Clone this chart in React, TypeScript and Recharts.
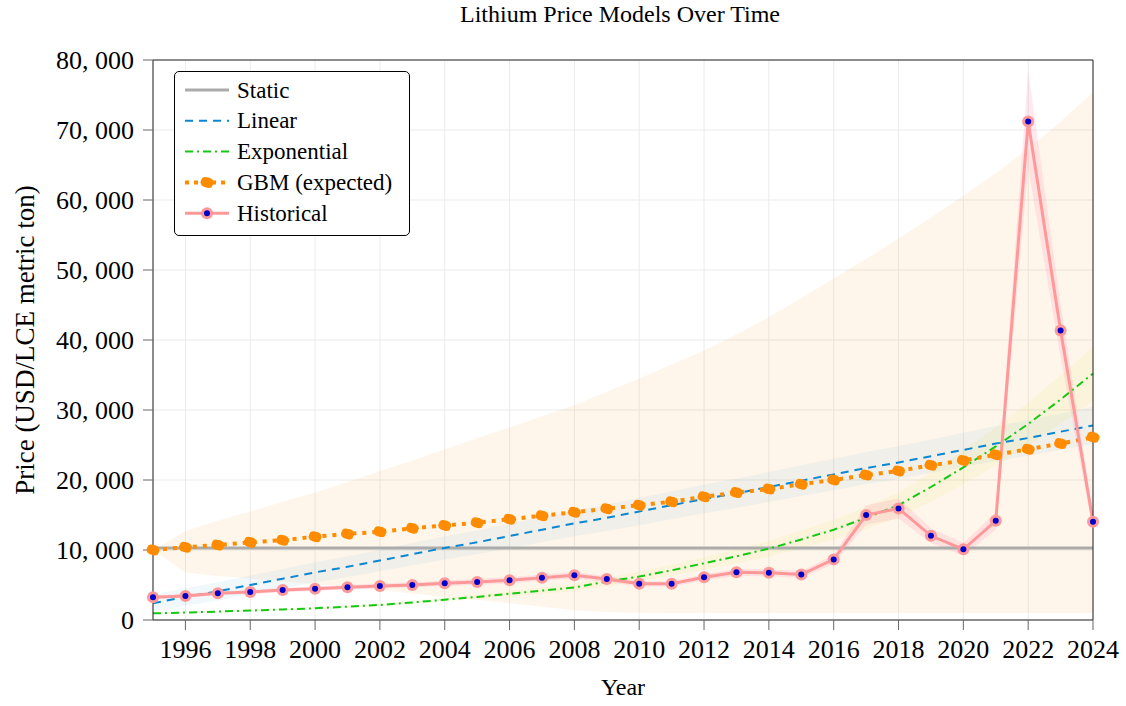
import { Area, CartesianGrid, ComposedChart, Line, XAxis, YAxis } from "recharts";

const YEARS = [
  1995, 1996, 1997, 1998, 1999, 2000, 2001, 2002, 2003, 2004, 2005, 2006, 2007, 2008, 2009,
  2010, 2011, 2012, 2013, 2014, 2015, 2016, 2017, 2018, 2019, 2020, 2021, 2022, 2023, 2024,
];

const STATIC_PRICE = 10300;

const LINEAR = [
  2400, 3300, 4100, 5000, 5900, 6800, 7600, 8500, 9400, 10300, 11100, 12000, 12900, 13800, 14600,
  15500, 16400, 17300, 18100, 19000, 19900, 20800, 21700, 22500, 23400, 24300, 25200, 26000, 26900, 27800,
];
const LINEAR_LOW = [
  1200, 2050, 2800, 3650, 4500, 5350, 6100, 6950, 7800, 8650, 9400, 10250, 11100, 11950, 12700,
  13550, 14400, 15250, 16000, 16850, 17700, 18550, 19400, 20150, 21000, 21850, 22700, 23450, 24300, 25150,
];
const LINEAR_HIGH = [
  3600, 4550, 5400, 6350, 7300, 8250, 9100, 10050, 11000, 11950, 12800, 13750, 14700, 15650, 16500,
  17450, 18400, 19350, 20200, 21150, 22100, 23050, 24000, 24850, 25800, 26750, 27700, 28550, 29500, 30450,
];

const EXPONENTIAL = [
  950, 1070, 1200, 1350, 1500, 1680, 1900, 2150, 2500, 2900, 3300, 3750, 4200, 4650, 5500,
  6200, 7100, 8100, 9100, 10200, 11500, 12900, 14600, 16400, 19000, 21800, 24800, 28000, 31500, 35200,
];
const EXP_LOW = [
  850, 950, 1070, 1200, 1340, 1500, 1690, 1910, 2230, 2580, 2940, 3340, 3740, 4140, 4900,
  5520, 6320, 7210, 8100, 9080, 10240, 11480, 12990, 14600, 16910, 19400, 22070, 24920, 28040, 31300,
];
const EXP_HIGH = [
  1050, 1190, 1330, 1500, 1670, 1860, 2110, 2390, 2780, 3220, 3660, 4160, 4660, 5160, 6110,
  6880, 7880, 8990, 10100, 11320, 12770, 14320, 16210, 18200, 21090, 24200, 27530, 31080, 34970, 39070,
];

const GBM = [
  10000, 10400, 10700, 11100, 11400, 11900, 12300, 12600, 13100, 13500, 13900, 14400, 14900, 15400, 15900,
  16400, 16900, 17600, 18200, 18700, 19400, 20000, 20700, 21300, 22100, 22800, 23600, 24400, 25200, 26100,
];
const GBM_LOW = [
  10000, 6800, 6300, 5900, 5500, 5100, 4700, 4300, 3800, 3300, 2900, 2400, 1900, 1400, 1100,
  1050, 1000, 1000, 1000, 1000, 1000, 1000, 1000, 1000, 1000, 1000, 1000, 1000, 1000, 1000,
];
const GBM_HIGH = [
  10000, 12700, 14200, 15500, 16900, 18200, 19700, 21300, 22800, 24400, 26000, 27500, 29100, 30700, 32600,
  34500, 36500, 38500, 40800, 43300, 46000, 48800, 51600, 54500, 57500, 60600, 63900, 67300, 71200, 75400,
];

const HISTORICAL = [
  3240, 3430, 3810, 4000, 4280, 4470, 4670, 4850, 5000, 5240, 5420, 5670, 6040, 6380, 5850,
  5180, 5180, 6100, 6810, 6750, 6500, 8660, 14990, 15940, 12030, 10090, 14170, 71200, 41350, 14030,
];
const HIST_LOW = [
  3000, 3200, 3550, 3700, 3950, 4150, 4350, 4500, 4650, 4850, 5000, 5250, 5600, 5900, 5400,
  4800, 4800, 5650, 6300, 6250, 6000, 8000, 13600, 14500, 11000, 9200, 12900, 64500, 37500, 12800,
];
const HIST_HIGH = [
  3500, 3700, 4100, 4300, 4600, 4800, 5000, 5200, 5400, 5650, 5850, 6100, 6500, 6850, 6300,
  5550, 5550, 6550, 7300, 7250, 7000, 9300, 16400, 17400, 13100, 11000, 15400, 78500, 45200, 15300,
];

const X_TICKS = [1996, 1998, 2000, 2002, 2004, 2006, 2008, 2010, 2012, 2014, 2016, 2018, 2020, 2022, 2024];
const Y_TICKS = [0, 10000, 20000, 30000, 40000, 50000, 60000, 70000, 80000];

const FONT = '"Liberation Serif", "Times New Roman", serif';

const C_STATIC = "#ababab";
const C_LINEAR = "#0a87d3";
const C_EXP = "#14c814";
const C_GBM = "#ff8c00";
const C_HIST = "#ff9999";
const C_HIST_DOT = "#0000c8";

const data = YEARS.map((year, i) => ({
  year,
  staticPrice: STATIC_PRICE,
  linear: LINEAR[i],
  linearBand: [LINEAR_LOW[i], LINEAR_HIGH[i]],
  exponential: EXPONENTIAL[i],
  expBand: [EXP_LOW[i], EXP_HIGH[i]],
  gbm: GBM[i],
  gbmBand: [GBM_LOW[i], GBM_HIGH[i]],
  historical: HISTORICAL[i],
  histBand: [HIST_LOW[i], HIST_HIGH[i]],
}));

const formatPrice = (v: number) => (v === 0 ? "0" : `${v / 1000}, 000`);

const GbmDot = (p: any) => (
  <g key={`gbm-${p.index}`}>
    <ellipse cx={p.cx} cy={p.cy} rx={6.5} ry={5} fill={C_GBM} />
    <circle cx={p.cx - 2} cy={p.cy - 2} r={3.5} fill={C_GBM} />
    <circle cx={p.cx + 2} cy={p.cy + 2} r={3.5} fill={C_GBM} />
  </g>
);

const HistDot = (p: any) => (
  <g key={`hist-${p.index}`}>
    <circle cx={p.cx} cy={p.cy} r={6} fill={C_HIST} />
    <circle cx={p.cx} cy={p.cy} r={3} fill={C_HIST_DOT} />
  </g>
);

function LegendBox() {
  const rows = [
    { name: "Static", kind: "static" },
    { name: "Linear", kind: "linear" },
    { name: "Exponential", kind: "exp" },
    { name: "GBM (expected)", kind: "gbm" },
    { name: "Historical", kind: "hist" },
  ];
  return (
    <div
      style={{
        position: "absolute",
        left: 174,
        top: 71,
        width: 236,
        height: 165,
        boxSizing: "border-box",
        border: "1.5px solid #000",
        borderRadius: 5,
        background: "#fff",
      }}
    >
      <svg width={233} height={162} style={{ position: "absolute", left: 0, top: 0 }}>
        {rows.map((r, i) => {
          const y = 18 + i * 30.8;
          let sample = null;
          if (r.kind === "static") sample = <line x1={10} x2={54} y1={y} y2={y} stroke={C_STATIC} strokeWidth={3} />;
          if (r.kind === "linear")
            sample = <line x1={10} x2={54} y1={y} y2={y} stroke={C_LINEAR} strokeWidth={2} strokeDasharray="8 6" />;
          if (r.kind === "exp")
            sample = <line x1={10} x2={54} y1={y} y2={y} stroke={C_EXP} strokeWidth={2} strokeDasharray="8 4 2 4" />;
          if (r.kind === "gbm")
            sample = (
              <g>
                <line x1={10} x2={54} y1={y} y2={y} stroke={C_GBM} strokeWidth={4} strokeDasharray="4 5" />
                {GbmDot({ cx: 32, cy: y, index: 0 })}
              </g>
            );
          if (r.kind === "hist")
            sample = (
              <g>
                <line x1={10} x2={54} y1={y} y2={y} stroke={C_HIST} strokeWidth={3} />
                {HistDot({ cx: 32, cy: y, index: 0 })}
              </g>
            );
          return (
            <g key={r.name}>
              {sample}
              <text x={62} y={y} dominantBaseline="central" fontSize={23} fontFamily={FONT} fill="#000">
                {r.name}
              </text>
            </g>
          );
        })}
      </svg>
    </div>
  );
}

export default function App() {
  return (
    <div style={{ position: "absolute", left: 0, top: 0, width: 1126, height: 706, background: "#fff", fontFamily: FONT }}>
      <ComposedChart
        width={1126}
        height={706}
        data={data}
        margin={{ top: 59, right: 32, bottom: 0, left: 0 }}
        style={{ fontFamily: FONT }}
      >
        <CartesianGrid stroke="#ebebeb" strokeWidth={1} />
        <XAxis
          dataKey="year"
          type="number"
          domain={[1995, 2024]}
          ticks={X_TICKS}
          interval={0}
          height={86}
          tickSize={10}
          tickMargin={10}
          axisLine={{ stroke: "#222" }}
          tickLine={{ stroke: "#666" }}
          tick={{ fontSize: 26, fill: "#000", fontFamily: FONT }}
          label={{ value: "Year", position: "insideBottom", offset: 11, fontSize: 24, fill: "#000", fontFamily: FONT }}
        />
        <XAxis
          xAxisId="top"
          dataKey="year"
          type="number"
          orientation="top"
          domain={[1995, 2024]}
          ticks={X_TICKS}
          interval={0}
          height={1}
          tickSize={10}
          tick={false}
          axisLine={{ stroke: "#222" }}
          tickLine={{ stroke: "#666" }}
        />
        <YAxis
          type="number"
          domain={[0, 80000]}
          ticks={Y_TICKS}
          interval={0}
          width={153}
          tickSize={10}
          tickMargin={9}
          tickFormatter={formatPrice}
          axisLine={{ stroke: "#222" }}
          tickLine={{ stroke: "#666" }}
          tick={{ fontSize: 26, fill: "#000", fontFamily: FONT }}
          label={{
            content: () => (
              <text
                x={25}
                y={340}
                transform="rotate(-90 25 340)"
                textAnchor="middle"
                dominantBaseline="central"
                fontSize={27}
                fontFamily={FONT}
                fill="#000"
              >
                Price (USD/LCE metric ton)
              </text>
            ),
          }}
        />
        <YAxis
          yAxisId="right"
          orientation="right"
          type="number"
          domain={[0, 80000]}
          ticks={Y_TICKS}
          interval={0}
          width={1}
          tickSize={10}
          tick={false}
          axisLine={{ stroke: "#222" }}
          tickLine={{ stroke: "#666" }}
        />

        <Area dataKey="gbmBand" type="linear" stroke="none" fill={C_GBM} fillOpacity={0.08} isAnimationActive={false} activeDot={false} />
        <Area dataKey="linearBand" type="linear" stroke="none" fill={C_LINEAR} fillOpacity={0.06} isAnimationActive={false} activeDot={false} />
        <Area dataKey="expBand" type="linear" stroke="none" fill="#c8e61e" fillOpacity={0.08} isAnimationActive={false} activeDot={false} />
        <Area dataKey="histBand" type="linear" stroke="none" fill="#ff8fb4" fillOpacity={0.2} isAnimationActive={false} activeDot={false} />

        <Line dataKey="staticPrice" type="linear" stroke={C_STATIC} strokeWidth={3} dot={false} activeDot={false} isAnimationActive={false} />
        <Line dataKey="linear" type="linear" stroke={C_LINEAR} strokeWidth={2} strokeDasharray="8 6" dot={false} activeDot={false} isAnimationActive={false} />
        <Line dataKey="exponential" type="linear" stroke={C_EXP} strokeWidth={2} strokeDasharray="8 4 2 4" dot={false} activeDot={false} isAnimationActive={false} />
        <Line dataKey="gbm" type="linear" stroke={C_GBM} strokeWidth={4} strokeDasharray="4 6" dot={GbmDot} activeDot={false} isAnimationActive={false} />
        <Line dataKey="historical" type="linear" stroke={C_HIST} strokeWidth={3} dot={HistDot} activeDot={false} isAnimationActive={false} />
      </ComposedChart>

      <div
        style={{
          position: "absolute",
          left: 620,
          top: 1,
          transform: "translateX(-50%)",
          whiteSpace: "nowrap",
          fontSize: 24,
          color: "#000",
        }}
      >
        Lithium Price Models Over Time
      </div>
      <LegendBox />
    </div>
  );
}
